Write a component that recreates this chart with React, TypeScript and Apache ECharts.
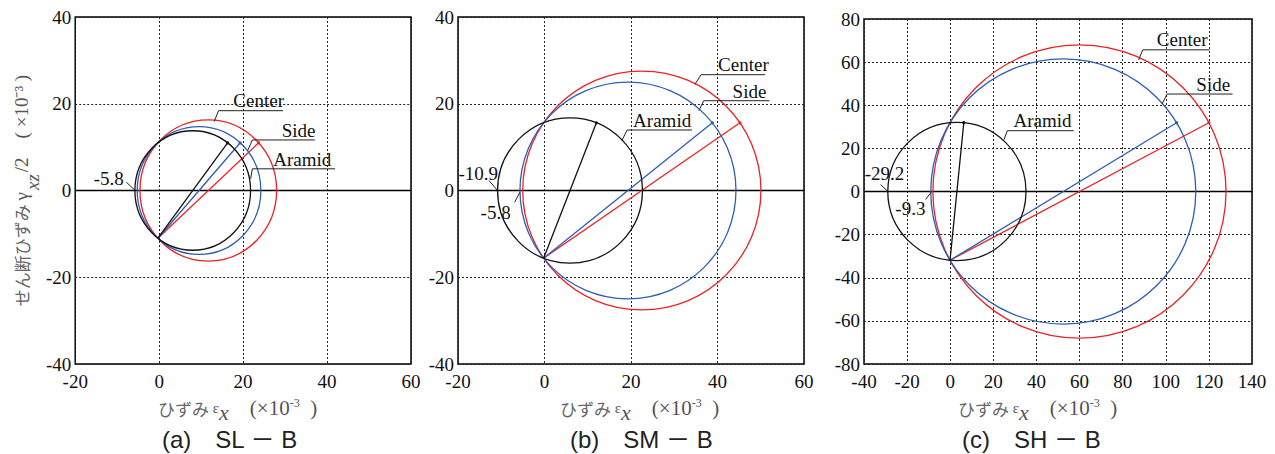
import { useEffect, useRef } from "react";
import * as echarts from "echarts";

// ---------- data ----------
const seriesNames = ["Center", "Side", "Aramid"];
const seriesColors = ["#ee2026", "#2d5db5", "#111111"];

const panelTitles = ["(a)　SL － B", "(b)　SM － B", "(c)　SH － B"];
const xMin = [-20, -20, -40];
const xMax = [60, 60, 140];
const yMin = [-40, -40, -80];
const yMax = [40, 40, 80];
const tickStep = 20;

// common end of every diameter (εx, -γxz/2)
const slStart = [-0.3, -11.0];
const smStart = [-0.2, -15.6];
const shStart = [-0.1, -31.9];
// other end of the diameter: Center, Side, Aramid
const slEnds = [[23.7, 11.0], [19.3, 11.0], [16.3, 11.0]];
const smEnds = [[45.2, 15.6], [38.8, 15.6], [12.0, 15.6]];
const shEnds = [[120.0, 31.9], [105.0, 31.9], [6.3, 31.9]];

// annotations (data coordinates): label centre and leader polyline
const slNotes = [
  { label: "Center", at: [23.7, 20.7], path: [[13.1, 15.9], [14.15, 18.4], [29.5, 18.4]] },
  { label: "Side", at: [33.2, 13.8], path: [[21.1, 9.2], [22.2, 11.65], [37.1, 11.65]] },
  { label: "Aramid", at: [34.1, 7.1], path: [[21.8, 2.7], [22.2, 5.0], [41.9, 5.0]] },
  { label: "-5.8", at: [-12, 2.7], path: [[-5.7, 0], [-7.8, 1.9]] },
];
const smNotes = [
  { label: "Center", at: [46, 29.1], path: [[34.8, 24.5], [36.2, 26.7], [51, 26.7]] },
  { label: "Side", at: [47.4, 22.8], path: [[35.7, 18.4], [36.8, 20.7], [52, 20.7]] },
  { label: "Aramid", at: [27.2, 16.1], path: [[17.9, 11.5], [19.1, 13.95], [34.1, 13.95]] },
  { label: "-10.9", at: [-15.3, 4.0], path: [[-10.85, 0], [-12.85, 2.3]] },
  { label: "-5.8", at: [-11.3, -5.0], path: [[-5.7, -0.4], [-6.9, -2.7]] },
];
const shNotes = [
  { label: "Center", at: [107.6, 70.6], path: [[87.4, 61], [89.3, 65.7], [120.3, 65.7]] },
  { label: "Side", at: [122, 49.5], path: [[98.3, 40.6], [100.6, 45.2], [131, 45.2]] },
  { label: "Aramid", at: [42.8, 33], path: [[24.9, 24], [26.5, 28.2], [57.3, 28.2]] },
  { label: "-29.2", at: [-30.5, 8.3], path: [[-28.9, 0], [-32.3, 3.2]] },
  { label: "-9.3", at: [-18.5, -8], path: [[-8.8, -0.3], [-11.4, -3.7]] },
];

const starts = [slStart, smStart, shStart];
const ends = [slEnds, smEnds, shEnds];
const notes = [slNotes, smNotes, shNotes];

// ---------- layout ----------
const grids = [
  { left: 65, top: 17, width: 346, height: 347 },
  { left: 458, top: 17, width: 346, height: 347 },
  { left: 864, top: 19, width: 388, height: 345 },
];
const titleLeft = [162, 570, 962];
const xNameLeft = [158, 560, 958];

const SERIF_CSS = '"Liberation Serif", serif';
const CJK_CSS = '"Noto Sans CJK JP", sans-serif';
const NB = "\u00A0";

function circleRender(color: string) {
  return (params: any, api: any) => {
    const x1 = api.value(0), y1 = api.value(1), x2 = api.value(2), y2 = api.value(3);
    const cx = (x1 + x2) / 2, cy = (y1 + y2) / 2;
    const r = Math.hypot(x2 - x1, y2 - y1) / 2;
    const c = api.coord([cx, cy]);
    const s = api.size([r, r]);
    const p1 = api.coord([x1, y1]);
    const p2 = api.coord([x2, y2]);
    return {
      type: "group",
      children: [
        { type: "ellipse", shape: { cx: c[0], cy: c[1], rx: s[0], ry: s[1] }, style: { fill: "none", stroke: color, lineWidth: 1.3 } },
        { type: "line", shape: { x1: p1[0], y1: p1[1], x2: p2[0], y2: p2[1] }, style: { stroke: color, lineWidth: 1.3 } },
        { type: "circle", shape: { cx: p2[0], cy: p2[1], r: 1.6 }, style: { fill: color } },
      ],
    };
  };
}

function noteRender(list: any[]) {
  return (params: any, api: any) => {
    const n = list[params.dataIndex];
    const t = api.coord(n.at);
    const pts = n.path.map((p: number[]) => api.coord(p));
    return {
      type: "group",
      children: [
        { type: "polyline", shape: { points: pts }, style: { fill: "none", stroke: "#222", lineWidth: 1 } },
        {
          type: "text",
          x: t[0],
          y: t[1],
          style: { text: n.label, font: `19px ${SERIF_CSS}`, fill: "#111", align: "center", verticalAlign: "middle" },
        },
      ],
    };
  };
}

export default function App() {
  const ref = useRef<HTMLDivElement>(null);
  useEffect(() => {
    document.body.style.margin = "0";
    const chart = echarts.init(ref.current!, undefined, { renderer: "svg" });

    const series: any[] = [];
    for (let p = 0; p < 3; p++) {
      series.push({
        type: "line",
        xAxisIndex: p,
        yAxisIndex: p,
        data: [[xMin[p], 0], [xMax[p], 0]],
        symbol: "none",
        silent: true,
        lineStyle: { color: "#000", width: 1.6 },
        z: 3,
      });
      for (let k = 0; k < 3; k++) {
        series.push({
          type: "custom",
          name: seriesNames[k],
          xAxisIndex: p,
          yAxisIndex: p,
          clip: false,
          silent: true,
          encode: { x: [0, 2], y: [1, 3] },
          data: [[starts[p][0], starts[p][1], ends[p][k][0], ends[p][k][1]]],
          renderItem: circleRender(seriesColors[k]),
          z: 4,
        });
      }
      series.push({
        type: "custom",
        xAxisIndex: p,
        yAxisIndex: p,
        clip: false,
        silent: true,
        encode: { x: 0, y: 1 },
        data: notes[p].map((n) => n.at),
        renderItem: noteRender(notes[p]),
        z: 5,
      });
    }

    const splitLine = { show: true, lineStyle: { color: "#222", type: [2, 2], width: 1 } };
    const axisLabel = { fontFamily: "Liberation Serif", fontSize: 19, color: "#111" };

    const xNameRich = {
      j: { font: `17px ${CJK_CSS}`, fill: "#666", lineHeight: 30, verticalAlign: "middle" },
      e: { font: `15px ${SERIF_CSS}`, fill: "#555", verticalAlign: "middle" },
      x: { font: `italic 22px ${SERIF_CSS}`, fill: "#555", verticalAlign: "bottom" },
      n: { font: `21px ${SERIF_CSS}`, fill: "#555", verticalAlign: "middle" },
      s: { font: `12px ${SERIF_CSS}`, fill: "#555", lineHeight: 12, padding: [0, 0, 10, 0], verticalAlign: "middle" },
    };

    const graphic: any[] = [];
    for (let p = 0; p < 3; p++) {
      graphic.push({
        type: "text",
        left: titleLeft[p],
        top: 427,
        style: { text: panelTitles[p], font: '24px "Liberation Sans", "Noto Sans CJK JP", sans-serif', fill: "#222" },
      });
      graphic.push({
        type: "text",
        x: xNameLeft[p],
        y: 408,
        style: {
          text: `{j|ひずみ }{e|ε}{x|x}{n|${NB.repeat(4)}(×10}{s|-3}{n|${NB.repeat(2)})}`,
          rich: xNameRich,
          align: "left",
          verticalAlign: "middle",
        },
      });
    }

    // y-axis title of panel (a), drawn by the axis itself
    const yName = `{j|せん断ひずみ }{g|γ}{sub|xz}{n|/2${NB.repeat(4)}(${NB}×10⁻³${NB})}`;
    const yNameStyle = {
      color: "#555",
      fontFamily: "Liberation Serif",
      fontSize: 19,
      rich: {
        j: { fontFamily: "Noto Sans CJK JP", fontSize: 17, color: "#666", lineHeight: 22 },
        g: { fontFamily: "Liberation Serif", fontSize: 19, color: "#555", lineHeight: 22 },
        sub: { fontFamily: "Liberation Serif", fontStyle: "italic", fontSize: 19, color: "#555", lineHeight: 22, padding: [22, 2, 0, 2] },
        n: { fontFamily: "Liberation Serif", fontSize: 19, color: "#555", lineHeight: 22 },
      },
    };

    chart.setOption({
      animation: false,
      backgroundColor: "#fff",
      textStyle: { fontFamily: "Liberation Serif" },
      grid: grids.map((g) => ({ ...g, show: true, borderColor: "#000", borderWidth: 1.5, backgroundColor: "transparent" })),
      xAxis: [0, 1, 2].map((p) => ({
        type: "value",
        gridIndex: p,
        min: xMin[p],
        max: xMax[p],
        interval: tickStep,
        axisLine: { show: false },
        axisTick: { show: false },
        splitLine,
        axisLabel: { ...axisLabel, margin: 8 },
      })),
      yAxis: [0, 1, 2].map((p) => ({
        type: "value",
        gridIndex: p,
        min: yMin[p],
        max: yMax[p],
        interval: tickStep,
        axisLine: { show: false },
        axisTick: { show: false },
        splitLine,
        axisLabel: { ...axisLabel, margin: 4 },
        name: p === 0 ? yName : "",
        nameLocation: "middle",
        nameRotate: 90,
        nameGap: 37,
        nameTextStyle: yNameStyle,
      })),
      series,
      graphic,
    });
    return () => chart.dispose();
  }, []);
  return <div ref={ref} style={{ width: 1275, height: 454 }} />;
}
